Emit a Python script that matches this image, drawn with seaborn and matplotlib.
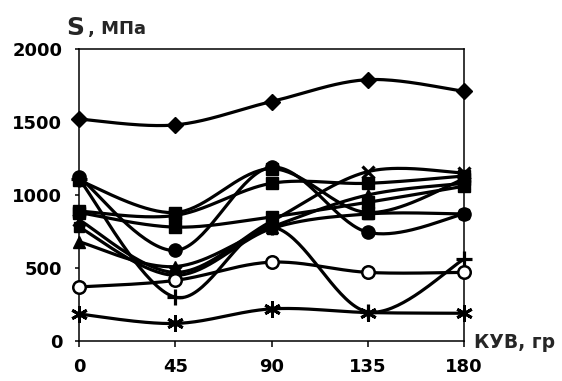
import numpy as np
import pandas as pd
import matplotlib
matplotlib.use("Agg")
import matplotlib.pyplot as plt
import seaborn as sns

# Angle of crankshaft rotation (КУВ, degrees)
angles = [0, 45, 90, 135, 180]

# Stress S, MPa, one list per measurement series
s_diamond = [1520, 1480, 1640, 1790, 1710]
s_circle = [1125, 620, 1190, 745, 870]
s_square_a = [1100, 880, 1180, 880, 1110]
s_cross = [830, 470, 820, 1160, 1150]
s_square_b = [890, 860, 1080, 1080, 1130]
s_square_c = [880, 780, 850, 950, 1060]
s_triangle = [680, 510, 780, 1000, 1080]
s_square_d = [780, 450, 770, 870, 870]
s_plus = [1110, 300, 780, 200, 560]
s_open = [370, 415, 540, 470, 470]
s_star = [185, 120, 220, 195, 190]

x_ticks = [0, 45, 90, 135, 180]
y_ticks = [0, 500, 1000, 1500, 2000]

series = [
    (s_diamond, dict(marker="D", ms=8.5)),
    (s_circle, dict(marker="o", ms=9.5)),
    (s_square_a, dict(marker="s", ms=8)),
    (s_cross, dict(marker="x", ms=9, mew=2.3)),
    (s_square_b, dict(marker="s", ms=8)),
    (s_square_c, dict(marker="s", ms=8)),
    (s_triangle, dict(marker="^", ms=9)),
    (s_square_d, dict(marker="s", ms=7)),
    (s_plus, dict(marker="+", ms=11, mew=2.3)),
    (s_open, dict(marker="o", ms=9, mfc="white", mew=1.8)),
    (s_star, dict(marker=(6, 2, 0), ms=12, mew=2.1)),
]


def smooth(xs, ys, n=40):
    """Bezier smoothing of a polyline (same construction as smoothed chart lines)."""
    p = np.column_stack([xs, ys]).astype(float)
    out = []
    m = len(p)
    for i in range(m - 1):
        p0 = p[max(i - 1, 0)]
        p1 = p[i]
        p2 = p[i + 1]
        p3 = p[min(i + 2, m - 1)]
        c1 = p1 + (p2 - p0) / 6.0
        c2 = p2 - (p3 - p1) / 6.0
        t = np.linspace(0, 1, n)[:, None]
        b = ((1 - t) ** 3) * p1 + 3 * ((1 - t) ** 2) * t * c1 + 3 * (1 - t) * t ** 2 * c2 + t ** 3 * p2
        out.append(b if i == 0 else b[1:])
    b = np.vstack(out)
    return b[:, 0], b[:, 1]


sns.set_style("white")
plt.rcParams["font.family"] = ["DejaVu Sans"]
plt.rcParams["font.weight"] = "bold"

fig = plt.figure(figsize=(5.62, 3.81), dpi=100)
ax = fig.add_axes([79 / 562, 1 - 341 / 381, (464 - 79) / 562, (341 - 49) / 381])

for vals, style in series:
    cx, cy = smooth(angles, vals)
    curve = pd.DataFrame({"angle": cx, "S": cy})
    sns.lineplot(data=curve, x="angle", y="S", ax=ax, color="black",
                 lw=2.3, sort=False, estimator=None, legend=False)
    kw = dict(color="black", mec="black", linestyle="none", clip_on=False, zorder=5)
    kw.update(style)
    ax.plot(angles, vals, **kw)

ax.set_xlim(0, 180)
ax.set_ylim(0, 2000)
ax.set_xticks(x_ticks)
ax.set_yticks(y_ticks)
ax.set_xticklabels([str(v) for v in x_ticks])
ax.set_yticklabels([str(v) for v in y_ticks])
ax.set_xlabel("")
ax.set_ylabel("")

for side in ["left", "bottom", "top", "right"]:
    ax.spines[side].set_visible(True)
    ax.spines[side].set_color("black")
    ax.spines[side].set_linewidth(1.1)

ax.tick_params(axis="x", direction="out", length=4, width=1.1, pad=8,
               labelsize=13, colors="black", bottom=True)
ax.tick_params(axis="y", direction="out", length=3, width=1.1, pad=9,
               labelsize=13, colors="black", left=True)
for lab in ax.get_xticklabels() + ax.get_yticklabels():
    lab.set_fontweight("bold")

# Axis captions
fig.text(66 / 562, 1 - 35 / 381, "S", fontsize=18, fontweight="bold",
         ha="left", va="baseline")
fig.text(88 / 562, 1 - 34 / 381, ", МПа", fontsize=13, fontweight="bold",
         ha="left", va="baseline")
fig.text(474 / 562, 1 - 343 / 381, "КУВ, гр", fontsize=13.5, fontweight="bold",
         ha="left", va="center")

fig.savefig("out.png", dpi=100, facecolor="white")
